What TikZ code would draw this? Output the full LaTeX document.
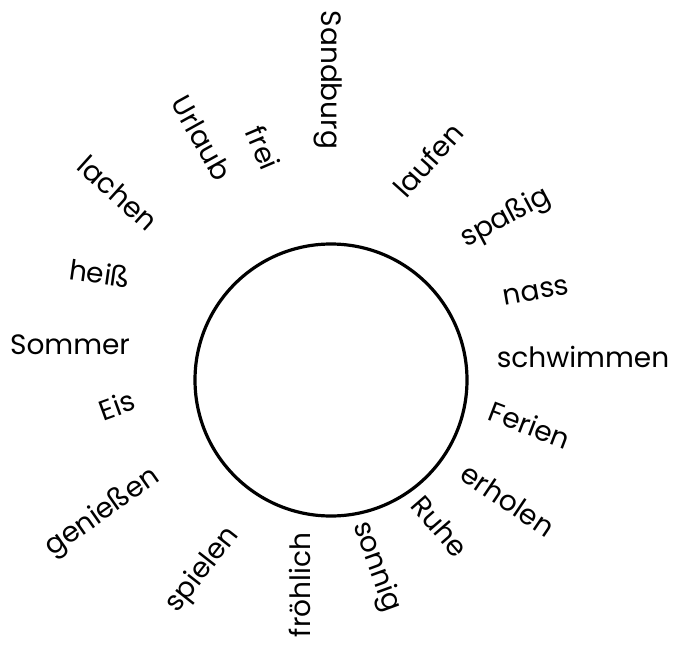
\documentclass[tikz,border=0pt]{standalone}
\usepackage{fontspec}
\setmainfont{Poppins}
\begin{document}
\begin{tikzpicture}[x=1pt,y=-1pt,
  word/.style={font=\fontsize{28}{32}\selectfont, inner sep=0pt, anchor=center}]
\useasboundingbox (0,0) rectangle (677,650);
\node[draw, circle, line width=3.2pt, minimum size=272pt, inner sep=0pt] (c) at (331,380) {};
\node[word, rotate=-90] (sandburg) at (328,80) {Sandburg};
\node[word, rotate=-67] (frei) at (263,148) {frei};
\node[word, rotate=-61] (urlaub) at (202,138) {Urlaub};
\node[word, rotate=48] (laufen) at (428,160) {laufen};
\node[word, rotate=28] (spassig) at (506,218) {spaßig};
\node[word, rotate=10] (nass) at (536,292) {nass};
\node[word] (schwimmen) at (583,357) {schwimmen};
\node[word, rotate=-21] (ferien) at (530,425) {Ferien};
\node[word, rotate=-34] (erholen) at (508,500) {erholen};
\node[word, rotate=-49] (ruhe) at (440,526) {Ruhe};
\node[word, rotate=-70] (sonnig) at (376,567) {sonnig};
\node[word, rotate=90] (froehlich) at (300,585) {fröhlich};
\node[word, rotate=52] (spielen) at (203,570) {spielen};
\node[word, rotate=35] (geniessen) at (103,513) {genießen};
\node[word, rotate=20] (eis) at (117,405) {Eis};
\node[word] (sommer) at (70,345) {Sommer};
\node[word, rotate=-8] (heiss) at (100,273) {heiß};
\node[word, rotate=-42] (lachen) at (118,193) {lachen};
\end{tikzpicture}
\end{document}
